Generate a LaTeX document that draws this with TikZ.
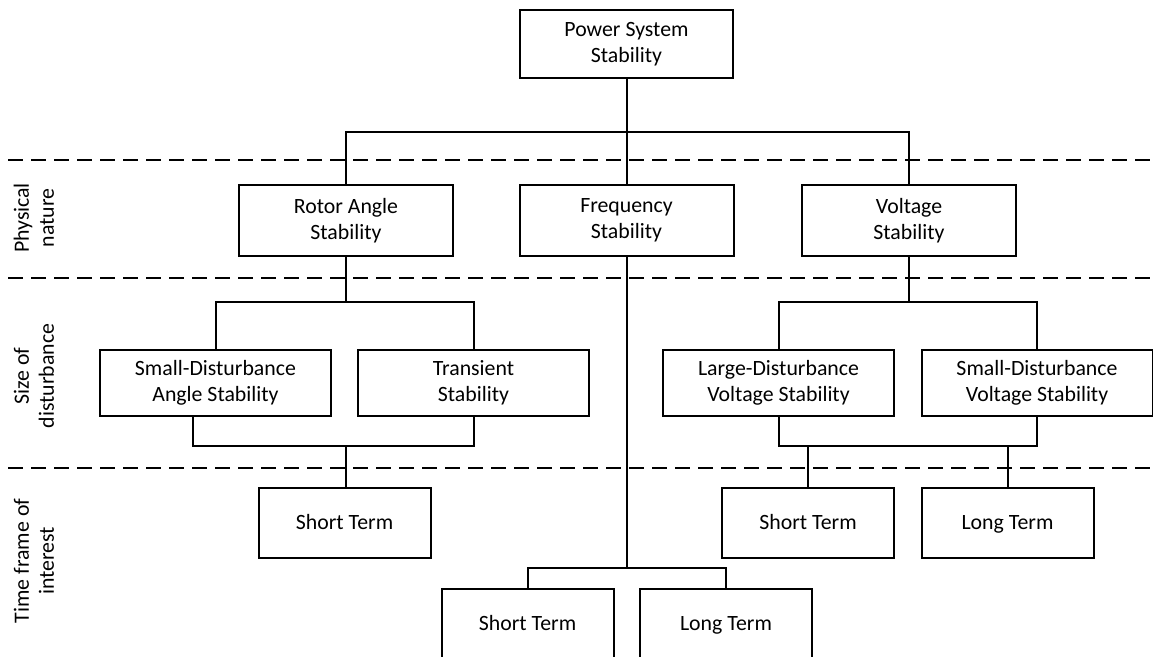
\documentclass[tikz,border=0pt]{standalone}
\usepackage{fontspec}
\setmainfont{Carlito}
\begin{document}
\begin{tikzpicture}[x=0.5pt, y=-0.5pt, line width=1pt,
  box/.style = {shape=rectangle, draw, align=center, inner sep=0pt,
    font=\fontsize{10.9}{13}\selectfont},
  topbox/.style = {box, minimum width=106.5pt, minimum height=34pt},
  natbox/.style = {box, minimum width=107pt, minimum height=35.5pt},
  sizebox/.style = {box, minimum width=115.5pt, minimum height=33pt},
  termbox/.style = {box, minimum width=86pt, minimum height=35pt,
    text height=9.5pt, text depth=2.5pt},
  side/.style = {rotate=90, align=center, font=\fontsize{10.9}{12.5}\selectfont},
  sep/.style = {dash pattern=on 7.5pt off 4pt}]
  \useasboundingbox (0,0) rectangle (1153,657);

  % separators and row labels
  \foreach \y in {160,278,468}
    \draw[sep] (8,\y) -- (1153,\y);
  \node[side] (phys) at (34,218) {Physical\\nature};
  \node[side] (size) at (34,376) {Size of\\disturbance};
  \node[side] (time) at (34,561) {Time frame of\\interest};

  % boxes
  \node[topbox] (pss) at (626.5,44) {Power System\\Stability};
  \node[natbox] (rotor) at (346,220.5) {Rotor Angle\\Stability};
  \node[natbox] (freq) at (626.5,220.5) {Frequency\\Stability};
  \node[natbox] (volt) at (909,220.5) {Voltage\\Stability};
  \node[sizebox] (sdangle) at (215.5,383) {Small-Disturbance\\Angle Stability};
  \node[sizebox] (trans) at (473.5,383) {Transient\\Stability};
  \node[sizebox] (ldvolt) at (778.5,383) {Large-Disturbance\\Voltage Stability};
  \node[sizebox] (sdvolt) at (1037,383) {Small-Disturbance\\Voltage Stability};
  \node[termbox] (stA) at (344.5,523) {Short Term};
  \node[termbox] (stV) at (808,523) {Short Term};
  \node[termbox] (ltV) at (1007.5,523) {Long Term};
  \node[termbox] (stF) at (527.5,624) {Short Term};
  \node[termbox] (ltF) at (726,624) {Long Term};

  % connectors
  \coordinate (top) at (626.5,132);
  \draw (pss) -- (top) -| (rotor);
  \draw (top) -| (volt);
  \draw (top) -- (freq);
  \coordinate (ra) at (346,302);
  \draw (rotor) -- (ra) -| (sdangle);
  \draw (ra) -| (trans);
  \coordinate (va) at (909,302);
  \draw (volt) -- (va) -| (ldvolt);
  \draw (va) -| (sdvolt);
  \coordinate (am) at (346,446);
  \draw ([xshift=-11.25pt]sdangle.south) |- (am) -| (trans);
  \draw (am) -- (am |- stA.north);
  \coordinate (vm) at (808,446);
  \draw (ldvolt) |- (vm) -| (sdvolt);
  \draw (vm) -- (vm |- stV.north);
  \draw (ltV) -- (ltV |- vm);
  \coordinate (fm) at (626.5,568);
  \draw (freq) -- (fm) -| (stF);
  \draw (fm) -| (ltF);
\end{tikzpicture}
\end{document}
